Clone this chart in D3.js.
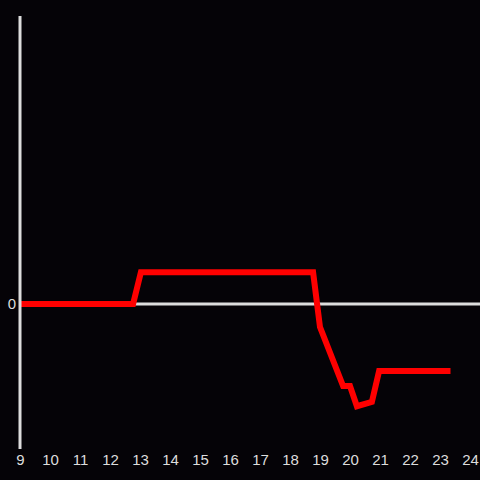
<!DOCTYPE html>
<html>
<head>
<meta charset="utf-8">
<script src="https://cdn.jsdelivr.net/npm/d3@7"></script>
<style>
  html, body { margin: 0; padding: 0; background: #050307; }
  svg { display: block; }
</style>
</head>
<body>
<svg width="480" height="480"></svg>
<script>
// hours of the day and the value of the series at each of them
const hours = [9, 12.77, 13.03, 18.77, 19.0, 19.77, 20.0, 20.23, 20.73, 20.97, 23.35];
const values = [0, 0, 0.22, 0.22, -0.16, -0.57, -0.57, -0.71, -0.68, -0.465, -0.465];
const xTicks = [9, 10, 11, 12, 13, 14, 15, 16, 17, 18, 19, 20, 21, 22, 23, 24];
const yTicks = [0];

const svgWidth = 480;
const svgHeight = 480;

const svg = d3.select("svg")
  .attr("width", svgWidth)
  .attr("height", svgHeight);

svg.append("rect")
  .attr("width", svgWidth)
  .attr("height", svgHeight)
  .attr("fill", "#050307");

const x = d3.scaleLinear()
  .domain([9, 24])
  .range([20, 470]);

const y = d3.scaleLinear()
  .domain([-1, 2])
  .range([448, 16]);

const data = hours.map((h, i) => ({ hour: h, value: values[i] }));

// zero line
svg.append("line")
  .attr("x1", x(9))
  .attr("x2", svgWidth)
  .attr("y1", y(0))
  .attr("y2", y(0))
  .attr("stroke", "#dddddd")
  .attr("stroke-width", 3);

// red series line
const line = d3.line()
  .x((d) => x(d.hour))
  .y((d) => y(d.value));

svg.append("path")
  .datum(data)
  .attr("fill", "none")
  .attr("stroke", "#ff0000")
  .attr("stroke-width", 6)
  .attr("stroke-linejoin", "miter")
  .attr("stroke-linecap", "butt")
  .attr("d", line);

// y axis
const yAxis = svg.append("g")
  .attr("transform", "translate(" + x(9) + ",0)")
  .call(d3.axisLeft(y).tickValues(yTicks).tickSize(0).tickPadding(4).tickFormat(d3.format("d")));

yAxis.select(".domain")
  .attr("stroke", "#dddddd")
  .attr("stroke-width", 3)
  .attr("d", "M0," + (y(2)) + "V" + (y(-1) + 1));

// x axis labels
const xAxis = svg.append("g")
  .attr("transform", "translate(0," + 450 + ")")
  .call(d3.axisBottom(x).tickValues(xTicks).tickSize(0).tickPadding(4).tickFormat(d3.format("d")));

xAxis.select(".domain").remove();

svg.selectAll(".tick text")
  .attr("fill", "#dddddd")
  .style("font-family", "'Liberation Sans', Arial, sans-serif")
  .style("font-size", "15px");
</script>
</body>
</html>
